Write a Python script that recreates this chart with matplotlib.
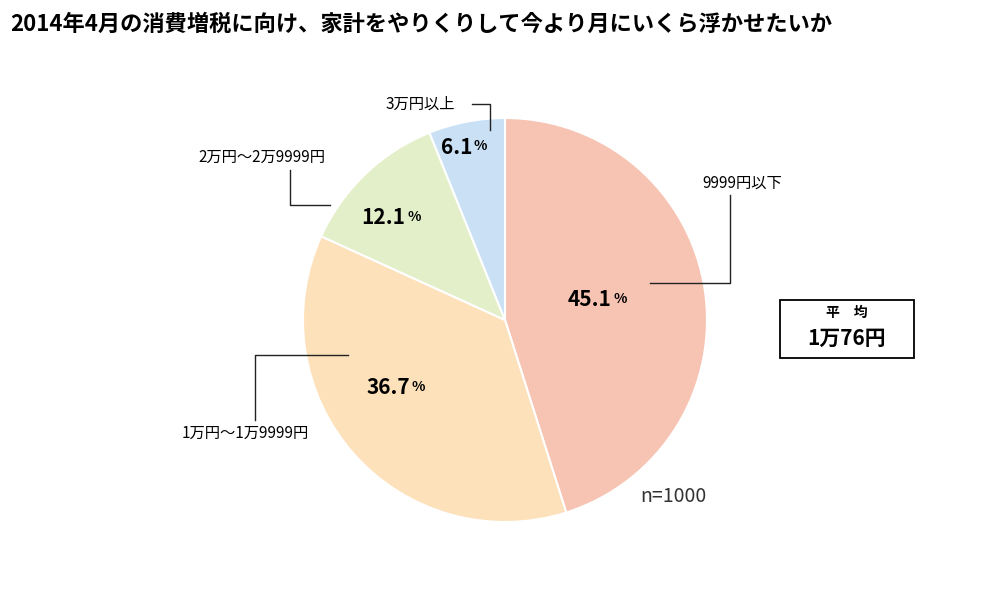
import matplotlib
matplotlib.use("Agg")
import matplotlib.pyplot as plt
from matplotlib.patches import Rectangle

plt.rcParams["font.family"] = "Noto Sans CJK JP"

labels = ["9999円以下", "1万円～1万9999円", "2万円～2万9999円", "3万円以上"]
values = [45.1, 36.7, 12.1, 6.1]
colors = ["#F7C4B3", "#FCE1BA", "#E3EFC8", "#C9E0F5"]
title = "2014年4月の消費増税に向け、家計をやりくりして今より月にいくら浮かせたいか"

H = 596
fig = plt.figure(figsize=(10, 5.96), dpi=100)
ax = fig.add_axes([0, 0, 1, 1])

cx, cy, r = 505, H - 320, 202
ax.pie(values, colors=colors, startangle=90, counterclock=False,
       center=(cx, cy), radius=r, frame=True,
       wedgeprops=dict(edgecolor="white", linewidth=1.5))
ax.set_xlim(0, 1000)
ax.set_ylim(0, H)
ax.set_aspect("equal")
ax.axis("off")

def y(p):
    return H - p

# percentage labels
pct_pos = [(612, 300), (410, 388), (405, 218), (472, 147)]
for (px, py), v in zip(pct_pos, values):
    ax.text(px, y(py), f"{v}", fontsize=15, fontweight="bold", ha="right", va="center")
    ax.text(px + 2, y(py) + 1, "%", fontsize=10, fontweight="bold", ha="left", va="center")

lc = "#222222"
# leader lines
ax.plot([650, 730, 730], [y(283), y(283), y(195)], color=lc, lw=1)
ax.text(742, y(183), labels[0], fontsize=11, ha="center", va="center")
ax.plot([348, 255, 255], [y(355), y(355), y(420)], color=lc, lw=1)
ax.text(245, y(433), labels[1], fontsize=11, ha="center", va="center")
ax.plot([330, 290, 290], [y(205), y(205), y(170)], color=lc, lw=1)
ax.text(262, y(157), labels[2], fontsize=11, ha="center", va="center")
ax.plot([472, 490, 490], [y(104), y(104), y(130)], color=lc, lw=1)
ax.text(420, y(104), labels[3], fontsize=11, ha="center", va="center")

ax.text(640, y(497), "n=1000", fontsize=14, ha="left", va="center", color="#333333")

ax.add_patch(Rectangle((780, y(358)), 134, 58, fill=False, edgecolor="black", lw=1.3))
ax.text(847, y(313), "平　均", fontsize=10, fontweight="bold", ha="center", va="center")
ax.text(847, y(338), "1万76円", fontsize=15, fontweight="bold", ha="center", va="center")

ax.text(10, y(24), title, fontsize=16, fontweight="bold", ha="left", va="center")

fig.savefig("out.png", dpi=100)
